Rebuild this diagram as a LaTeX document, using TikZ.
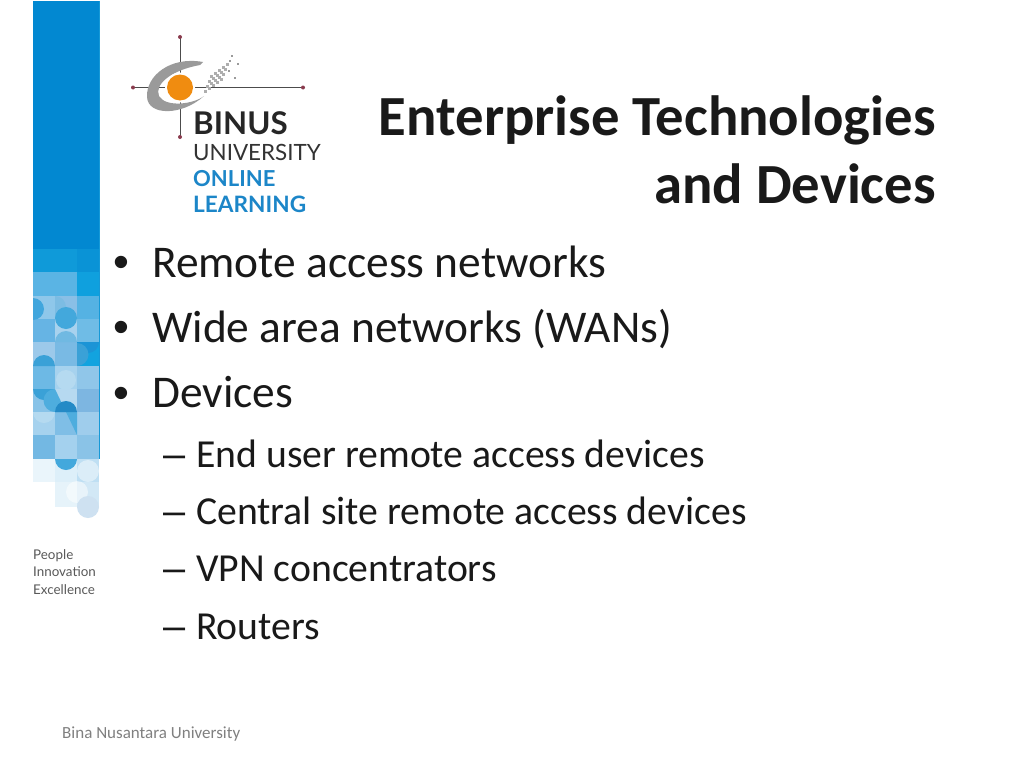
\documentclass[tikz,border=0pt]{standalone}
\usepackage{fontspec}
\setmainfont{Carlito}
\newfontfamily\logofont{Lato}
\newfontfamily\markfont{Liberation Sans}
\usetikzlibrary{calc}
\definecolor{stripblue}{HTML}{0288D1}
\definecolor{logogrey}{HTML}{9A9A9A}
\definecolor{logoblue}{HTML}{1C86C8}
\definecolor{logoorange}{HTML}{F08C10}
\definecolor{crossred}{HTML}{8A3B4E}
\tikzset{
    titletext/.style={inner sep=0, font=\fontsize{56.7}{68}\selectfont\bfseries, text=black!90},
    bodytext/.style={anchor=base west, inner sep=0, font=\fontsize{45.4}{54}\selectfont, text=black!90},
    subtext/.style={anchor=base west, inner sep=0, font=\fontsize{39.7}{48}\selectfont, text=black!90},
    bulletmark/.style={anchor=base west, inner sep=0, font=\markfont\fontsize{45.4}{54}\selectfont, text=black!90},
    dashmark/.style={anchor=base west, inner sep=0, font=\markfont\fontsize{39.7}{48}\selectfont, text=black!90},
    logotext/.style={anchor=base west, inner sep=0},
    captiontext/.style={anchor=base west, inner sep=0, font=\logofont\fontsize{13.4}{14}\selectfont, text=black!65},
    blob/.style={draw=none, fill=#1}
}
\begin{document}
\begin{tikzpicture}[x=1pt,y=-1pt]
    \useasboundingbox (0,0) rectangle (1024,768);
    \fill[white] (0,0) rectangle (1024,768);

    % Solid strip
    \fill[stripblue] (33,1) rectangle (99,249);

    % Mosaic cells
    \foreach \yt/\yb/\ca/\cb/\cc in {
        249/272/0F9AD9/0F9AD9/0A93D6,
        272/296/5AB4E4/5AB4E4/0FA0DE,
        296/319/8FC7EA/8ABFE6/55B2E3,
        319/342/66B4E4/A8D2EE/6FBCE6,
        342/366/9CC9EA/79BAE4/12A3DF,
        366/389/6DB9E5/A6D2EE/90C6E9,
        389/412/88C3E8/B6D9F0/7DB6E1,
        412/435/A6D2EE/7FBEE6/9FCDEC,
        435/459/73B8E3/A4D1EE/8AC3E7,
        459/482/EAF5FB/DDEFF9/BFDFF3,
        482/507/FFFFFF/E6F3FA/D2E8F6}{
        \definecolor{cella}{HTML}{\ca}
        \definecolor{cellb}{HTML}{\cb}
        \definecolor{cellc}{HTML}{\cc}
        \fill[cella] (33,\yt) rectangle (55,\yb);
        \fill[cellb] (55,\yt) rectangle (77,\yb);
        \fill[cellc] (77,\yt) rectangle (99,\yb);
    }
    \draw[cyan!60!stripblue, line width=0.8pt] (99,1) -- (99,459);

    % Mosaic blobs
    \fill[blob=cyan!45!stripblue!55] (55,296) arc (90:270:-11) -- cycle;
    \fill[blob=cyan!55!stripblue!80] (66,318) circle (11);
    \fill[blob=stripblue!75] (33,320) arc (90:-90:11) -- cycle;
    \fill[blob=cyan!50!stripblue!60] (55,342) arc (180:360:11) -- cycle;
    \fill[blob=stripblue!90] (77,342) arc (180:0:11) -- cycle;
    \fill[blob=cyan!50!stripblue!85] (33,366) arc (180:360:11) -- cycle;
    \fill[blob=cyan!50!stripblue!85] (33,389) arc (180:0:11) -- cycle;
    \fill[blob=cyan!50!stripblue!30] (66,380) circle (10);
    \fill[blob=cyan!50!stripblue!85] (77,366) arc (90:-90:11.5) -- cycle;
    \fill[blob=cyan!50!stripblue!30] (33,412) arc (180:0:11) -- cycle;
    \fill[blob=cyan!55!stripblue!75] (55,412) arc (90:270:11.5) -- (77,435) -- (77,412) -- cycle;
    \fill[blob=cyan!30!stripblue] (55,412) arc (180:360:11) -- cycle;
    \fill[blob=cyan!55!stripblue!80] (55,459) arc (180:0:11) -- cycle;
    \fill[blob=white, opacity=0.45] (88,471) circle (11);
    \fill[blob=white, opacity=0.5] (77,492) circle (11);
    \fill[blob=cyan!20!stripblue!20] (88,507) circle (11);

    % Logo cross
    \draw[black!70, line width=1pt] (180,37) -- (180,137);
    \draw[black!70, line width=1pt] (133,87.5) -- (303,87.5);
    \foreach \px/\py in {180/37, 180/137, 133/87.5, 303/87.5}
        \fill[crossred] (\px,\py) circle (2);

    % Logo swoosh
    \fill[logogrey] (203,62) .. controls (170,56) and (146,76) .. (147,97)
        .. controls (148,116) and (182,116) .. (204,96)
        .. controls (194,104) and (166,108) .. (159,96)
        .. controls (154,84) and (172,70) .. (200,65) -- cycle;
    \foreach \px in {0,...,4}
        \foreach \py in {0,...,3}
            \fill[logogrey!80] ({204+\px*4+\py*2},{90+\py*-5-\px*3}) rectangle ++(3,3);
    \foreach \px/\py in {229/60, 237/63, 228/70, 234/77, 231/55}
        \fill[logogrey] (\px,\py) rectangle ++(2,2);
    \fill[white] (180,87.5) circle (15);
    \fill[logoorange] (180,87.5) circle (13);

    % Logo text
    \node[logotext, font=\logofont\fontsize{31.3}{33}\selectfont\bfseries, text=black!85] (binus) at (193,134) {BINUS};
    \node[logotext, font=\logofont\fontsize{22.4}{24}\selectfont, text=black!80] (university) at (193,160) {UNIVERSITY};
    \node[logotext, font=\logofont\fontsize{22}{24}\selectfont\bfseries, text=logoblue] (online) at (193,186) {ONLINE};
    \node[logotext, font=\logofont\fontsize{22.6}{24}\selectfont\bfseries, text=logoblue] (learning) at (193,212) {LEARNING};

    % Strip caption
    \node[captiontext] (people) at (33,559) {People};
    \node[captiontext] (innovation) at (33,576) {Innovation};
    \node[captiontext] (excellence) at (33,594) {Excellence};

    % Title
    \node[titletext, align=right, anchor=south east] (title) at (936,204) {Enterprise Technologies\\and Devices};

    % Bullets
    \node[bulletmark] (b1) at (113,277) {•};
    \node[bulletmark] (b2) at (113,342) {•};
    \node[bulletmark] (b3) at (113,408) {•};
    \node[bodytext] (remote) at (152,277) {Remote access networks};
    \node[bodytext] (wide) at (152,342) {Wide area networks (WANs)};
    \node[bodytext] (devices) at (152,407.5) {Devices};

    % Sub bullets
    \node[dashmark] (d1) at (163,467) {–};
    \node[dashmark] (d2) at (163,524) {–};
    \node[dashmark] (d3) at (163,581) {–};
    \node[dashmark] (d4) at (163,639) {–};
    \node[subtext] (enduser) at (196,467) {End user remote access devices};
    \node[subtext] (central) at (196,524) {Central site remote access devices};
    \node[subtext] (vpn) at (196,581) {VPN concentrators};
    \node[subtext] (routers) at (196,639) {Routers};

    % Footer
    \node[anchor=base west, inner sep=0, font=\fontsize{17}{20}\selectfont, text=black!50] (footer) at (62,738) {Bina Nusantara University};
\end{tikzpicture}
\end{document}
